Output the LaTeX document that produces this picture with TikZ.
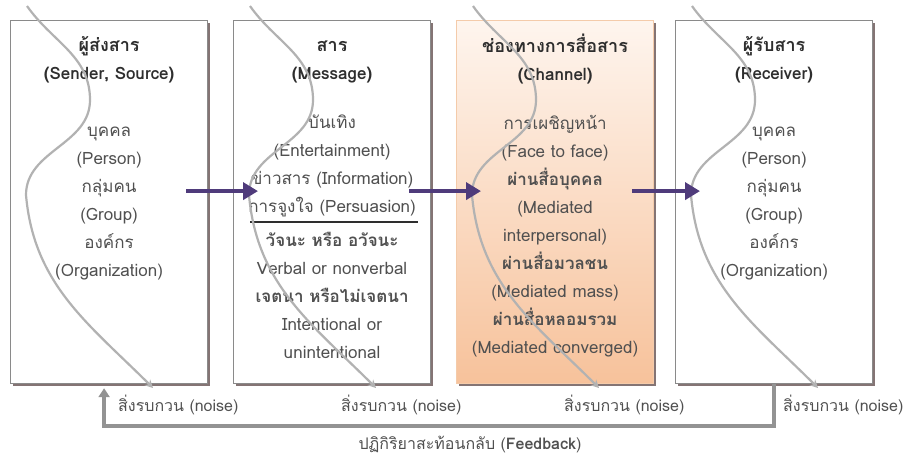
\documentclass[tikz,border=0pt]{standalone}
\usepackage{fontspec}
\setmainfont[Script=Thai]{Loma}
\usetikzlibrary{arrows.meta,shadows}
\definecolor{txtgray}{HTML}{505050}
\definecolor{headgray}{HTML}{2E2E2E}
\definecolor{boxline}{HTML}{8A8A8A}
\definecolor{shadebrown}{HTML}{6E5C5C}
\definecolor{flowpurple}{HTML}{4F3B7B}
\definecolor{noisegray}{HTML}{B2B2B2}
\definecolor{peachtop}{HTML}{FEF5EE}
\definecolor{peachbot}{HTML}{F7C29B}
\definecolor{peachline}{HTML}{F4CBAA}
\newcommand{\headline}[1]{\rule{0pt}{17pt}\textbf{\color{headgray}#1}}

\begin{document}
\begin{tikzpicture}[x=1pt,y=-1pt,
  stage/.style={draw=boxline, line width=1.2pt, fill=white, minimum width=197pt,
    minimum height=363pt, inner sep=0pt, anchor=north west,
    drop shadow={shadow xshift=2pt, shadow yshift=-2pt, fill=shadebrown, opacity=0.85}},
  boxtext/.style={anchor=north, align=center, text=txtgray, inner sep=0pt,
    font=\fontsize{17}{28}\selectfont},
  noise/.style={draw=noisegray, line width=2.2pt, -{Stealth[length=8pt,width=8pt]}},
  noiselabel/.style={anchor=west, text=txtgray, inner sep=0pt, font=\fontsize{16}{18}\selectfont},
  flow/.style={draw=flowpurple, line width=4.5pt, -{Triangle[length=15pt,width=17pt]}},
  feedback/.style={draw=gray!85, line width=4.5pt, -{Triangle[length=9pt,width=11pt]}, shorten >=4pt}]

  \useasboundingbox (0,0) rectangle (904,458);

  \node[stage] (sender) at (10,20) {};
  \node[stage] (message) at (233,20) {};
  \node[stage, draw=peachline, top color=peachtop, bottom color=peachbot] (channel) at (456,20) {};
  \node[stage] (receiver) at (675,20) {};

  \node[boxtext] (sendertxt) at ([yshift=-14pt]sender.north)
    {\fontsize{18}{28}\selectfont\headline{ผู้ส่งสาร}\\\headline{(Sender, Source)}\\[29pt]
     บุคคล\\(Person)\\กลุ่มคน\\(Group)\\องค์กร\\(Organization)};
  \node[boxtext] (messagetxt) at ([yshift=-14pt]message.north)
    {\fontsize{18}{28}\selectfont\headline{สาร}\\\headline{(Message)}\\[21pt]
     บันเทิง\\(Entertainment)\\ข่าวสาร (Information)\\การจูงใจ (Persuasion)\\[6pt]
     \textbf{วัจนะ หรือ อวัจนะ}\\Verbal or nonverbal\\\textbf{เจตนา หรือไม่เจตนา}\\Intentional or\\unintentional};
  \node[boxtext] (channeltxt) at ([yshift=-14pt]channel.north)
    {\fontsize{18}{28}\selectfont\headline{ช่องทางการสื่อสาร}\\\headline{(Channel)}\\[21pt]
     การเผชิญหน้า\\(Face to face)\\\textbf{ผ่านสื่อบุคคล}\\(Mediated\\interpersonal)\\
     \textbf{ผ่านสื่อมวลชน}\\(Mediated mass)\\\textbf{ผ่านสื่อหลอมรวม}\\(Mediated converged)};
  \node[boxtext] (receivertxt) at ([yshift=-14pt]receiver.north)
    {\fontsize{18}{28}\selectfont\headline{ผู้รับสาร}\\\headline{(Receiver)}\\[29pt]
     บุคคล\\(Person)\\กลุ่มคน\\(Group)\\องค์กร\\(Organization)};

  \draw[draw=headgray, line width=1.3pt] ([shift={(17,202)}]message.north west) -- ([shift={(-13,202)}]message.north east);

  \foreach \b in {sender,message,channel,receiver}{
    \draw[noise] ([shift={(17,-14)}]\b.north west) to[out=-55,in=90]
      ([shift={(80,80)}]\b.north west) to[out=-90,in=90]
      ([shift={(16,175)}]\b.north west) to[out=-85,in=135]
      ([shift={(143,368)}]\b.north west);
    \node[noiselabel] (\b noise) at ([shift={(108,385)}]\b.north west) {สิ่งรบกวน (noise)};
  }

  \draw[flow] ([shift={(-22,-11)}]sender.east) -- ([shift={(25,-11)}]message.west);
  \draw[flow] ([shift={(-22,-11)}]message.east) -- ([shift={(25,-11)}]channel.west);
  \draw[flow] ([shift={(-22,-11)}]channel.east) -- ([shift={(25,-11)}]receiver.west);

  \draw[feedback] (receiver.south) -- ++(0,42) -| ([xshift=-5pt]sender.south);
  \node[text=txtgray, font=\fontsize{16}{18}\selectfont] (fbtext) at (470,444)
    {ปฏิกิริยาสะท้อนกลับ (\textbf{Feedback})};
\end{tikzpicture}
\end{document}
